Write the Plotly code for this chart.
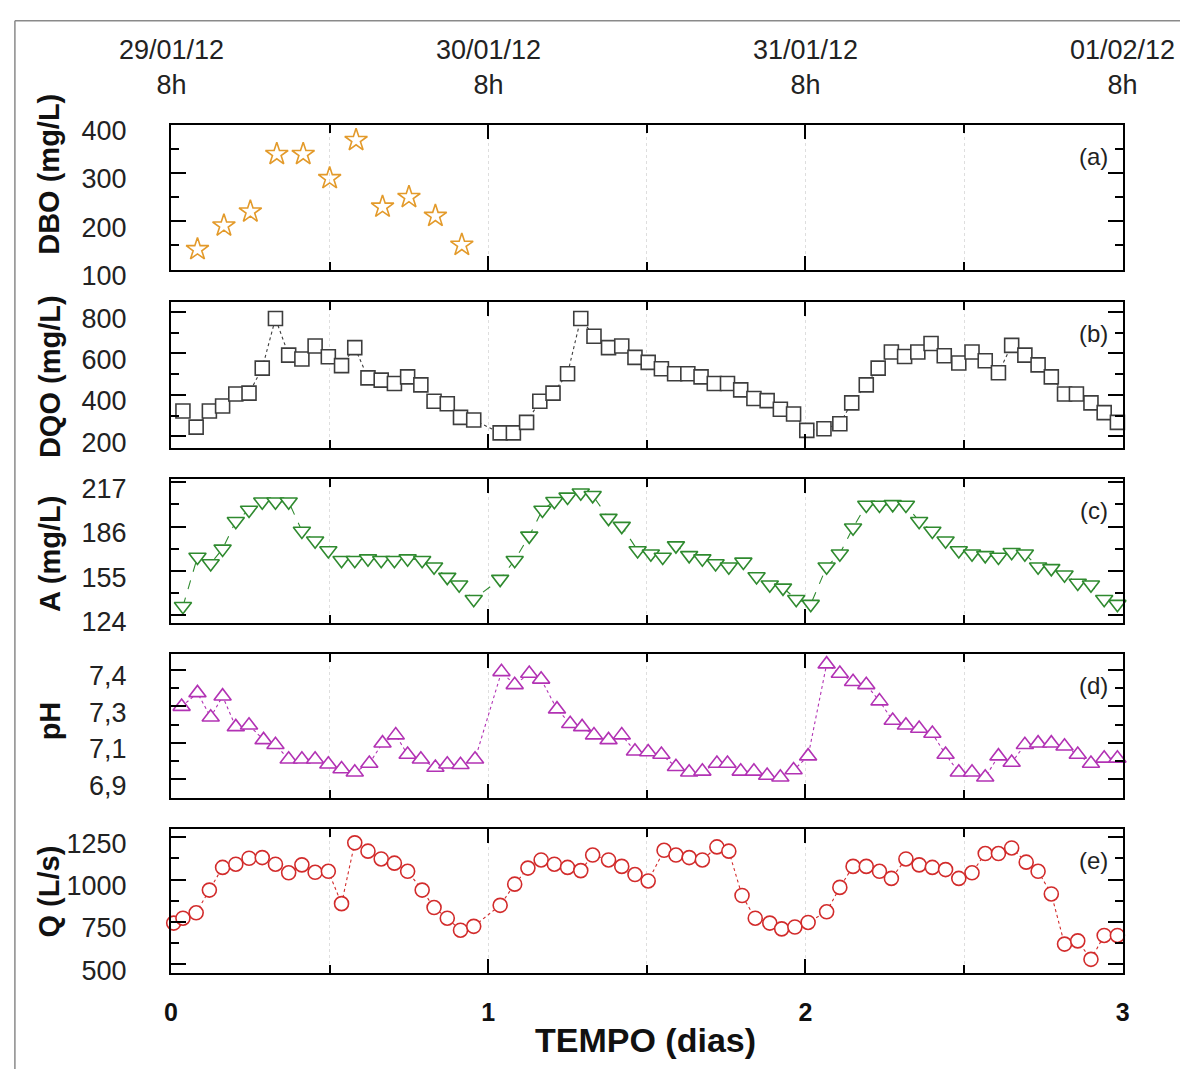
import plotly.graph_objects as go

# ---------------- data (hours since 29/01/12 8h) ----------------
dbo_h = [2, 4, 6, 8, 10, 12, 14, 16, 18, 20, 22]
dbo = [142, 191, 220, 339, 339, 289, 368, 230, 250, 211, 151]

dqo_h = [0.9, 1.9, 2.9, 3.9, 4.9, 5.9, 6.9, 7.9, 8.9, 9.9, 10.9, 11.9, 12.9, 13.9, 14.9, 15.9,
         16.9, 17.9, 18.9, 19.9, 20.9, 21.9, 22.9,
         24.9, 25.9, 26.9, 27.9, 28.9, 30.0, 31.0, 32.0,
         33.1, 34.1, 35.1, 36.1, 37.1, 38.1, 39.1, 40.1, 41.1, 42.1, 43.1, 44.1, 45.1, 46.1, 47.1, 48.1,
         49.4, 50.6, 51.5, 52.6, 53.5, 54.5, 55.5, 56.5, 57.5, 58.5, 59.6, 60.6, 61.6, 62.6,
         63.6, 64.6, 65.6, 66.6, 67.6, 68.5, 69.6, 70.6, 71.6]
dqo = [322, 244, 322, 346, 404, 408, 529, 769, 592, 573, 636, 584, 541, 628, 482, 471,
       455, 487, 448, 369, 357, 291, 278,
       216, 216, 267, 369, 408, 502, 769, 683,
       628, 636, 581, 557, 526, 502, 502, 487, 455, 455, 424, 382, 372, 330, 307, 228,
       236, 260, 361, 448, 529, 607, 585, 607, 648, 589, 554, 607, 565, 507,
       639, 592, 545, 487, 404, 404, 361, 314, 267]

a_h = [0.9, 2.0, 3.0, 3.9, 4.9, 5.9, 6.9, 7.9, 8.9, 9.9, 10.9, 11.9, 12.9, 13.9, 14.9, 15.9,
       16.9, 17.9, 19.0, 19.9, 20.9, 21.8, 22.9,
       24.9, 26.0, 27.1, 28.1, 29.0, 30.0, 31.0, 31.9,
       33.1, 34.1, 35.3, 36.3, 37.2, 38.2, 39.2, 40.2, 41.2, 42.2, 43.3, 44.3, 45.3, 46.3, 47.3, 48.4,
       49.6, 50.6, 51.6, 52.6, 53.6, 54.6, 55.6, 56.6, 57.6, 58.6, 59.6, 60.6, 61.6, 62.6, 63.6,
       64.6, 65.6, 66.6, 67.6, 68.6, 69.6, 70.6, 71.6]
a_val = [130.4, 164.8, 160.3, 170.5, 189.8, 197.7, 203.4, 203.4, 203.4, 183.0, 176.2, 169.4,
         162.6, 162.6, 163.7, 162.6, 162.6, 163.7, 162.6, 158.0, 150.8, 145.5, 135.3,
         149.4, 162.6, 179.6, 197.7, 203.8, 206.8, 209.7, 207.9,
         192.0, 186.4, 169.4, 167.1, 164.8, 172.8, 166.0, 163.7, 160.3, 158.0, 161.4, 151.2,
         145.5, 143.3, 135.3, 131.9,
         158.0, 167.1, 185.3, 201.1, 201.1, 201.6, 201.1, 189.8, 183.0, 176.2, 169.4, 167.1,
         166.0, 164.8, 168.2, 167.1, 158.0, 156.9, 152.4, 146.7, 145.5, 135.3, 131.9]

ph_h = [0.8, 2.0, 3.0, 3.9, 4.9, 5.9, 7.0, 7.9, 8.9, 9.9, 10.9, 11.9, 12.9, 13.9, 15.0, 16.0,
        17.0, 17.9, 18.9, 20.0, 20.9, 21.9, 23.0,
        25.0, 26.0, 27.1, 28.0, 29.2, 30.2, 31.1, 32.0,
        33.1, 34.1, 35.1, 36.1, 37.1, 38.2, 39.2, 40.2, 41.3, 42.1, 43.1, 44.1, 45.1, 46.1, 47.1, 48.2,
        49.6, 50.6, 51.6, 52.6, 53.6, 54.6, 55.6, 56.6, 57.6, 58.6, 59.6, 60.6, 61.6, 62.6, 63.6,
        64.6, 65.6, 66.6, 67.6, 68.6, 69.6, 70.6, 71.6]
ph = [7.298, 7.373, 7.240, 7.355, 7.187, 7.196, 7.116, 7.089, 7.010, 7.010, 7.010, 6.983,
      6.957, 6.939, 6.987, 7.098, 7.142, 7.036, 7.010, 6.965, 6.983, 6.980, 7.010,
      7.488, 7.417, 7.479, 7.447, 7.284, 7.204, 7.187, 7.142,
      7.116, 7.142, 7.054, 7.050, 7.036, 6.969, 6.939, 6.944, 6.987, 6.987, 6.944, 6.944,
      6.921, 6.912, 6.951, 7.027,
      7.530, 7.479, 7.434, 7.417, 7.328, 7.222, 7.196, 7.178, 7.151, 7.036, 6.939, 6.939,
      6.912, 7.027, 6.992, 7.089, 7.098, 7.098, 7.081, 7.036, 6.987, 7.015, 7.015]

q_h = [0.2, 0.9, 1.9, 2.9, 3.9, 4.9, 5.9, 6.9, 7.9, 8.9, 9.9, 10.9, 11.9,
       12.9, 13.9, 14.9, 15.9, 16.9, 17.9, 19.0, 19.9, 20.9, 21.9, 22.9,
       24.9, 26.0, 27.0, 28.0, 29.0, 30.0, 31.0, 31.9,
       33.1, 34.1, 35.1, 36.1, 37.3, 38.2, 39.2, 40.2, 41.3, 42.2, 43.2, 44.2, 45.3, 46.2, 47.2, 48.2,
       49.6, 50.6, 51.6, 52.6, 53.6, 54.5, 55.6, 56.6, 57.6, 58.6, 59.6, 60.6, 61.6, 62.6, 63.6,
       64.7, 65.6, 66.6, 67.6, 68.6, 69.6, 70.6, 71.6]
q = [743, 772, 804, 938, 1072, 1091, 1126, 1130, 1091, 1040, 1087, 1043, 1049,
     858, 1217, 1168, 1122, 1097, 1049, 938, 835, 772, 701, 724,
     848, 973, 1068, 1116, 1091, 1072, 1053, 1145,
     1116, 1078, 1030, 992, 1173, 1145, 1130, 1116, 1193, 1168, 906, 772, 743, 709, 720, 747,
     810, 954, 1078, 1078, 1049, 1007, 1122, 1087, 1072, 1059, 1007, 1040, 1154, 1154, 1187,
     1103, 1049, 915, 619, 638, 529, 670, 670]

# axis tick labels / titles
y_titles = ["DBO (mg/L)", "DQO (mg/L)", "A (mg/L)", "pH", "Q (L/s)"]
panel_tags = ["(a)", "(b)", "(c)", "(d)", "(e)"]
dates = ["29/01/12", "30/01/12", "31/01/12", "01/02/12"]
date_days = [0, 1, 2, 3]
hour_label = "8h"
x_title = "TEMPO (dias)"

y_ranges = [[100, 400], [145, 850], [119, 219.5], [6.80, 7.587], [450, 1300]]
y_tickvals = [[100, 200, 300, 400], [200, 400, 600, 800], [124, 155, 186, 217],
              [6.9, 7.1, 7.3, 7.5], [500, 750, 1000, 1250]]
y_ticktext = [["100", "200", "300", "400"], ["200", "400", "600", "800"],
              ["124", "155", "186", "217"], ["6,9", "7,1", "7,3", "7,4"],
              ["500", "750", "1000", "1250"]]
y_minor = [[150, 250, 350], [300, 500, 700], [139.5, 170.5, 201.5],
           [7.0, 7.2, 7.4], [625, 875, 1125]]

# ---------------- layout geometry ----------------
W, H = 1187, 1090
X0, X1 = 166, 1129
panels = [(119, 268), (301, 451), (483, 631), (663, 811), (843, 991)]
title_y = [170, 378, 560, 732, 907]


def pxx(x):
    return x / W


def pyy(y):
    return 1 - y / H


FONT = "Liberation Sans, Arial, sans-serif"

# (x, y, symbol, colour, size, line dash, fill)
series = [
    (dbo_h, dbo, "star-open", "#E39A2A", 17, None, None),
    (dqo_h, dqo, "square", "#3d3d3d", 14, "dot", "white"),
    (a_h, a_val, "triangle-down", "#2F8A2F", 15, "dash", "white"),
    (ph_h, ph, "triangle-up", "#B232B4", 15, "dot", "white"),
    (q_h, q, "circle", "#D22B2B", 14, "dot", "white"),
]

fig = go.Figure()
for i, (hh, vv, sym, col, sz, dash, fill) in enumerate(series):
    k = "" if i == 0 else str(i + 1)
    days = [h / 24 for h in hh]
    fig.add_trace(go.Scatter(
        x=days, y=vv, xaxis="x" + k, yaxis="y" + k,
        mode="markers" if dash is None else "lines+markers",
        line=dict(color=col, width=1.1, dash=dash or "solid"),
        marker=dict(symbol=sym, size=sz, color=fill or col,
                    line=dict(color=col, width=1.6)),
        cliponaxis=False,
        showlegend=False,
    ))

layout = dict(
    width=W, height=H, margin=dict(l=0, r=0, t=0, b=0),
    paper_bgcolor="white", plot_bgcolor="white",
    hovermode=False, showlegend=False,
    font=dict(family=FONT, color="#222"),
)

annotations = []
for i in range(5):
    k = "" if i == 0 else str(i + 1)
    top, bot = panels[i]
    layout["xaxis" + k] = dict(
        domain=[pxx(X0), pxx(X1)], range=[0, 3], anchor="y" + k,
        showline=True, linewidth=2, linecolor="black", mirror="allticks",
        ticks="inside", ticklen=14, tickwidth=2, tickcolor="black",
        tickmode="array", tickvals=[0, 1, 2, 3], ticktext=["0", "1", "2", "3"],
        showticklabels=(i == 4),
        tickfont=dict(size=25, family=FONT, color="#111", weight="bold"),
        ticklabelstandoff=16,
        showgrid=True, gridcolor="#dedede", griddash="dot", gridwidth=1,
        minor=dict(tickmode="array", tickvals=[0.5, 1.5, 2.5], ticks="inside",
                   ticklen=8, tickwidth=2, tickcolor="black",
                   showgrid=True, gridcolor="#dedede", griddash="dot", gridwidth=1),
        zeroline=False, fixedrange=True,
    )
    if i > 0:
        layout["xaxis" + k]["matches"] = "x"
    layout["yaxis" + k] = dict(
        domain=[pyy(bot), pyy(top)], range=y_ranges[i], anchor="x" + k,
        showline=True, linewidth=2, linecolor="black", mirror="allticks",
        ticks="inside", ticklen=15, tickwidth=2, tickcolor="black",
        tickmode="array", tickvals=y_tickvals[i], ticktext=y_ticktext[i],
        tickfont=dict(size=27, family=FONT, color="#222"),
        ticklabelstandoff=37, ticklabelshift=6,
        minor=dict(tickmode="array", tickvals=y_minor[i], ticks="inside",
                   ticklen=8, tickwidth=2, tickcolor="black"),
        showgrid=False, zeroline=False, fixedrange=True,
    )
    annotations.append(dict(
        text=y_titles[i], xref="paper", yref="paper",
        x=pxx(43), y=pyy(title_y[i]), xanchor="center", yanchor="middle",
        textangle=-90, showarrow=False,
        font=dict(size=29, family=FONT, color="#111", weight="bold"),
    ))
    annotations.append(dict(
        text=panel_tags[i], xref="paper", yref="paper",
        x=pxx(1116), y=pyy(top + 33), xanchor="right", yanchor="middle",
        showarrow=False, font=dict(size=24, family=FONT, color="#222"),
    ))

for d, txt in zip(date_days, dates):
    annotations.append(dict(
        text=txt + "<br>" + hour_label, xref="x", yref="paper",
        x=d, y=pyy(60), xanchor="center", yanchor="middle",
        showarrow=False, font=dict(size=27, family=FONT, color="#222"),
    ))

annotations.append(dict(
    text=x_title, xref="paper", yref="paper",
    x=pxx(646), y=pyy(1060), xanchor="center", yanchor="middle",
    showarrow=False, font=dict(size=34, family=FONT, color="#111", weight="bold"),
))

layout["annotations"] = annotations
layout["shapes"] = [
    dict(type="line", xref="paper", yref="paper", x0=pxx(8), x1=1, y0=pyy(12), y1=pyy(12),
         line=dict(color="#8a8a8a", width=1.5)),
    dict(type="line", xref="paper", yref="paper", x0=pxx(8), x1=pxx(8), y0=pyy(12), y1=0,
         line=dict(color="#8a8a8a", width=1.5)),
]

fig.update_layout(**layout)
fig.write_html(
    "out.html",
    config={"displayModeBar": False},
    post_script="document.body.style.margin='0';document.body.style.overflow='hidden';",
)
